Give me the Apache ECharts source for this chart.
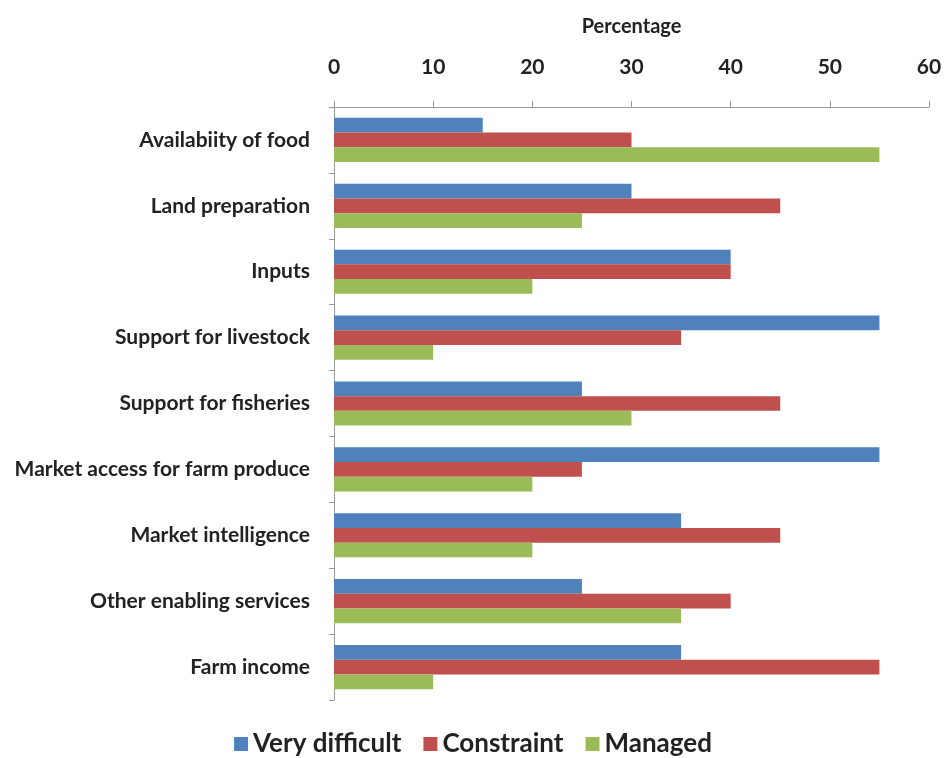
<!DOCTYPE html>
<html>
<head>
<meta charset="utf-8">
<script src="https://cdn.jsdelivr.net/npm/echarts@6/dist/echarts.min.js"></script>
<style>
  html, body { margin: 0; padding: 0; background: #fff; }
  #chart { width: 946px; height: 758px; }
</style>
</head>
<body>
<div id="chart"></div>
<script>
// Constraints faced, by area, as percentage of respondents
const categories = [
  'Availabiity of food',
  'Land preparation',
  'Inputs',
  'Support for livestock',
  'Support for fisheries',
  'Market access for farm produce',
  'Market intelligence',
  'Other enabling services',
  'Farm income'
];
const veryDifficult = [15, 30, 40, 55, 25, 55, 35, 25, 35];
const constraint    = [30, 45, 40, 35, 45, 25, 45, 40, 55];
const managed       = [55, 25, 20, 10, 30, 20, 20, 35, 10];
const xTicks = { min: 0, max: 60, step: 10 };

const FONT = 'Lato, "Open Sans", sans-serif';
const chart = echarts.init(document.getElementById('chart'), null, { renderer: 'canvas' });

const barSeries = (name, data, color) => ({
  name, type: 'bar', data,
  barGap: '0%', barCategoryGap: '33%',
  itemStyle: { color }
});

chart.setOption({
  animation: false,
  backgroundColor: '#ffffff',
  textStyle: { fontFamily: FONT },
  grid: { left: 334, right: 17, top: 107, bottom: 58, containLabel: false },
  legend: {
    bottom: -4,
    left: 'center',
    itemWidth: 14, itemHeight: 14, itemGap: 22,
    icon: 'rect',
    textStyle: { fontFamily: FONT, fontSize: 26, fontWeight: 'bold', color: '#222' },
    data: ['Very difficult', 'Constraint', 'Managed']
  },
  xAxis: {
    type: 'value',
    position: 'top',
    min: xTicks.min, max: xTicks.max, interval: xTicks.step,
    name: 'Percentage',
    nameLocation: 'middle',
    nameGap: 70,
    nameTextStyle: { fontFamily: FONT, fontSize: 20, fontWeight: 'bold', color: '#222' },
    axisLine: { show: true, lineStyle: { color: '#999', width: 1 } },
    axisTick: { show: true, length: 6, lineStyle: { color: '#999' } },
    axisLabel: { fontFamily: FONT, fontSize: 21, fontWeight: 'bold', color: '#222', margin: 29 },
    splitLine: { show: false }
  },
  yAxis: {
    type: 'category',
    inverse: true,
    data: categories,
    axisLine: { show: true, lineStyle: { color: '#999', width: 1 } },
    axisTick: { show: true, length: 5, lineStyle: { color: '#999' } },
    axisLabel: { fontFamily: FONT, fontSize: 21, fontWeight: 'bold', color: '#222', margin: 24 },
    splitLine: { show: false }
  },
  series: [
    barSeries('Very difficult', veryDifficult, '#4F81BD'),
    barSeries('Constraint', constraint, '#C0504D'),
    barSeries('Managed', managed, '#9BBB59')
  ]
});
</script>
</body>
</html>
